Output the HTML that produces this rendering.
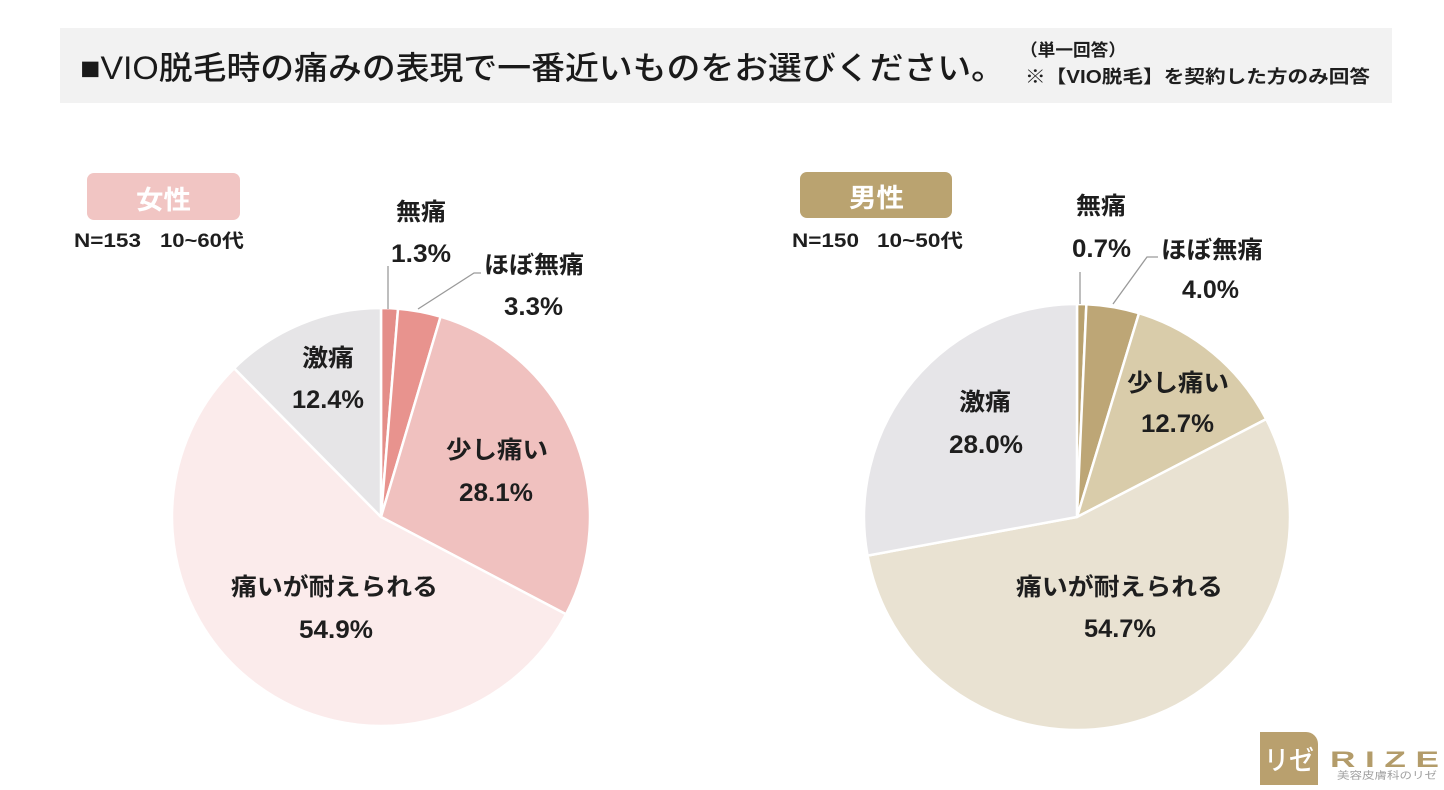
<!DOCTYPE html>
<html lang="ja">
<head>
<meta charset="utf-8">
<style>
  html,body{margin:0;padding:0;background:#fff;}
  body{width:1444px;height:790px;overflow:hidden;}
  svg{display:block;}
  text{font-family:"Liberation Sans","Noto Sans CJK JP",sans-serif;}
  .lbl{font-size:24px;font-weight:bold;fill:#1e1e1e;}
  .num{font-size:25px;font-weight:bold;fill:#1e1e1e;}
</style>
</head>
<body>
<svg width="1444" height="790" viewBox="0 0 1444 790" xmlns="http://www.w3.org/2000/svg">
  <rect x="0" y="0" width="1444" height="790" fill="#ffffff"/>

  <!-- Title bar -->
  <rect x="60" y="28" width="1332" height="75" fill="#f2f2f2"/>
  <text x="80" y="79" font-size="32" font-weight="500" fill="#1a1a1a" textLength="925" lengthAdjust="spacingAndGlyphs">■VIO脱毛時の痛みの表現で一番近いものをお選びください。</text>
  <text x="1020" y="56" font-size="17" font-weight="bold" fill="#1e1e1e" textLength="106" lengthAdjust="spacingAndGlyphs">（単一回答）</text>
  <text x="1025" y="83" font-size="18" font-weight="bold" fill="#1e1e1e" textLength="345" lengthAdjust="spacingAndGlyphs">※【VIO脱毛】を契約した方のみ回答</text>

  <!-- Female badge -->
  <rect x="87" y="173" width="153" height="47" rx="7" ry="7" fill="#f1c5c3"/>
  <text x="136" y="209" font-size="26" font-weight="bold" fill="#ffffff" textLength="55" lengthAdjust="spacingAndGlyphs">女性</text>
  <text x="74" y="247" font-size="19" font-weight="bold" fill="#1e1e1e" textLength="67" lengthAdjust="spacingAndGlyphs">N=153</text>
  <text x="160" y="247" font-size="19" font-weight="bold" fill="#1e1e1e" textLength="84" lengthAdjust="spacingAndGlyphs">10~60代</text>

  <!-- Male badge -->
  <rect x="800" y="172" width="152" height="46" rx="7" ry="7" fill="#baa370"/>
  <text x="849" y="207" font-size="26" font-weight="bold" fill="#ffffff" textLength="55" lengthAdjust="spacingAndGlyphs">男性</text>
  <text x="792" y="247" font-size="19" font-weight="bold" fill="#1e1e1e" textLength="67" lengthAdjust="spacingAndGlyphs">N=150</text>
  <text x="877" y="247" font-size="19" font-weight="bold" fill="#1e1e1e" textLength="86" lengthAdjust="spacingAndGlyphs">10~50代</text>

  <!-- Left pie (female) center 381,517 r 209 -->
  <g stroke="#ffffff" stroke-width="2.5" stroke-linejoin="round">
    <path d="M381,517 L381,308 A209,209 0 0 1 398.05,308.70 Z" fill="#e48e89"/>
    <path d="M381,517 L398.05,308.70 A209,209 0 0 1 440.57,316.67 Z" fill="#e8938e"/>
    <path d="M381,517 L440.57,316.67 A209,209 0 0 1 566.02,614.21 Z" fill="#f0c1bf"/>
    <path d="M381,517 L566.02,614.21 A209,209 0 1 1 234.13,368.30 Z" fill="#fbebeb"/>
    <path d="M381,517 L234.13,368.30 A209,209 0 0 1 381,308 Z" fill="#e6e5e7"/>
  </g>

  <!-- Right pie (male) center 1077,517 r 213 -->
  <g stroke="#ffffff" stroke-width="2.5" stroke-linejoin="round">
    <path d="M1077,517 L1077,304 A213,213 0 0 1 1086.37,304.21 Z" fill="#b8a16f"/>
    <path d="M1077,517 L1086.37,304.21 A213,213 0 0 1 1138.99,313.22 Z" fill="#bda676"/>
    <path d="M1077,517 L1138.99,313.22 A213,213 0 0 1 1266.18,419.11 Z" fill="#d9ccaa"/>
    <path d="M1077,517 L1266.18,419.11 A213,213 0 1 1 867.53,555.60 Z" fill="#e9e2d2"/>
    <path d="M1077,517 L867.53,555.60 A213,213 0 0 1 1077,304 Z" fill="#e6e5e8"/>
  </g>

  <!-- Leader lines -->
  <g stroke="#9a9a9a" stroke-width="1.3" fill="none">
    <polyline points="388,266 388,309"/>
    <polyline points="418,309 474,273 481,273"/>
    <polyline points="1080,272 1080,304"/>
    <polyline points="1113,304 1147,257 1158,257"/>
  </g>

  <!-- Left labels -->
  <text class="lbl" x="396" y="220" textLength="50" lengthAdjust="spacingAndGlyphs">無痛</text>
  <text class="num" x="391" y="262" textLength="60" lengthAdjust="spacingAndGlyphs">1.3%</text>
  <text class="lbl" x="484" y="273" textLength="100" lengthAdjust="spacingAndGlyphs">ほぼ無痛</text>
  <text class="num" x="504" y="315" textLength="59" lengthAdjust="spacingAndGlyphs">3.3%</text>
  <text class="lbl" x="302" y="366" textLength="52" lengthAdjust="spacingAndGlyphs">激痛</text>
  <text class="num" x="292" y="408" textLength="72" lengthAdjust="spacingAndGlyphs">12.4%</text>
  <text class="lbl" x="446" y="458" textLength="102" lengthAdjust="spacingAndGlyphs">少し痛い</text>
  <text class="num" x="459" y="501" textLength="74" lengthAdjust="spacingAndGlyphs">28.1%</text>
  <text class="lbl" x="231" y="595" textLength="207" lengthAdjust="spacingAndGlyphs">痛いが耐えられる</text>
  <text class="num" x="299" y="638" textLength="74" lengthAdjust="spacingAndGlyphs">54.9%</text>

  <!-- Right labels -->
  <text class="lbl" x="1076" y="214" textLength="50" lengthAdjust="spacingAndGlyphs">無痛</text>
  <text class="num" x="1072" y="257" textLength="59" lengthAdjust="spacingAndGlyphs">0.7%</text>
  <text class="lbl" x="1161" y="258" textLength="102" lengthAdjust="spacingAndGlyphs">ほぼ無痛</text>
  <text class="num" x="1182" y="298" textLength="57" lengthAdjust="spacingAndGlyphs">4.0%</text>
  <text class="lbl" x="1127" y="391" textLength="102" lengthAdjust="spacingAndGlyphs">少し痛い</text>
  <text class="num" x="1141" y="432" textLength="73" lengthAdjust="spacingAndGlyphs">12.7%</text>
  <text class="lbl" x="959" y="410" textLength="52" lengthAdjust="spacingAndGlyphs">激痛</text>
  <text class="num" x="949" y="453" textLength="74" lengthAdjust="spacingAndGlyphs">28.0%</text>
  <text class="lbl" x="1016" y="595" textLength="207" lengthAdjust="spacingAndGlyphs">痛いが耐えられる</text>
  <text class="num" x="1084" y="637" textLength="72" lengthAdjust="spacingAndGlyphs">54.7%</text>

  <!-- Logo -->
  <path d="M1260,732 L1306,732 A12,12 0 0 1 1318,744 L1318,785 L1260,785 Z" fill="#b9a06e"/>
  <text x="1264" y="770" font-size="27" font-weight="500" fill="#ffffff" textLength="50" lengthAdjust="spacingAndGlyphs">リゼ</text>
  <text transform="translate(1330,767) scale(1.6,1)" x="0" y="0" font-size="22" font-weight="bold" fill="#b39c6a" letter-spacing="6">RIZE</text>
  <text x="1337" y="779" font-size="10" fill="#a0a0a0" textLength="100" lengthAdjust="spacingAndGlyphs">美容皮膚科のリゼ</text>
</svg>
</body>
</html>
